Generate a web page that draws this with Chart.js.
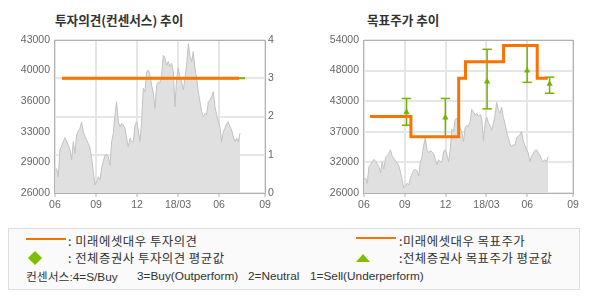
<!DOCTYPE html>
<html><head><meta charset="utf-8">
<script src="https://cdn.jsdelivr.net/npm/chart.js@4/dist/chart.umd.min.js"></script>
<style>
body{margin:0;width:590px;height:300px;background:#fff;position:relative;overflow:hidden;font-family:"Noto Sans CJK KR","Noto Sans",sans-serif;}
.title{position:absolute;font-weight:bold;font-size:12.6px;color:#333;top:11px;line-height:18px;white-space:pre;}
canvas{position:absolute;top:0;}
#c1{left:0;}
#c2{left:300px;}
.legend{position:absolute;left:8px;top:228px;width:570px;height:60px;background:#fafafa;border:1px solid #dedede;}
.lt{position:absolute;font-size:12.4px;line-height:16px;color:#333;white-space:pre;letter-spacing:0.5px;}
.ls{position:absolute;font-size:11.8px;line-height:16px;color:#333;white-space:pre;font-family:"Liberation Sans","Noto Sans CJK KR",sans-serif;}
.ls .k{font-family:"Noto Sans CJK KR",sans-serif;}
.oline{position:absolute;height:2px;width:40px;background:#f57300;}
.diamond{position:absolute;width:10px;height:10px;background:#7dbf00;transform:rotate(45deg);}
.tri{position:absolute;width:0;height:0;border-left:7px solid transparent;border-right:7px solid transparent;border-bottom:8px solid #7dbf00;}
</style>
</head><body>
<div class="title" style="left:55px;">투자의견(컨센서스) 추이</div>
<div class="title" style="left:367px;">목표주가 추이</div>
<canvas id="c1" width="295" height="220"></canvas>
<canvas id="c2" width="290" height="220"></canvas>
<div class="legend"></div>
<div class="oline" style="left:26px;top:238px;"></div>
<div class="lt" style="left:68px;top:233px;">: 미래에셋대우 투자의견</div>
<div class="diamond" style="left:30px;top:253px;"></div>
<div class="lt" style="left:68px;top:250px;">: 전체증권사 투자의견 평균값</div>
<div class="oline" style="left:356px;top:237px;"></div>
<div class="lt" style="left:399px;top:233px;">:미래에셋대우 목표주가</div>
<div class="tri" style="left:356px;top:254px;"></div>
<div class="lt" style="left:399px;top:250px;">:전체증권사 목표주가 평균값</div>
<div class="ls" style="left:26px;top:268px;"><span class="k">컨센서스</span>:4=S/Buy</div>
<div class="ls" style="left:137px;top:268px;">3=Buy(Outperform)</div>
<div class="ls" style="left:248px;top:268px;">2=Neutral</div>
<div class="ls" style="left:310px;top:268px;">1=Sell(Underperform)</div>
<script>
// ---- data (x in months since 2017-06) ----
const xTickValues = [0, 3, 6, 9, 12];
const xTickLabels = ['06', '09', '12', '18/03', '06', '09'];
const xMin = -0.07, xMax = 15.36;

const priceStartMonth = 0, priceEndMonth = 13.53;
const priceValues = [
 28500,28700,27800,30800,31200,31700,32150,31800,31300,30800,
 29700,31700,30400,32450,32900,33200,33900,32800,32300,31900,
 31500,31000,29850,28400,26900,27250,27800,27450,28750,29500,
 30200,30300,30050,29100,31700,32600,34700,36150,33900,33350,
 33750,33550,33200,32100,31150,32100,31700,31700,33550,33900,
 33000,31700,33900,37650,37250,39500,39650,39100,
 38000,37100,35400,38000,38350,38200,39100,41300,40950,40200,
 40600,40050,40400,39500,35600,38750,39850,38900,38350,37450,
 38750,40200,42600,41150,40600,41700,39850,38750,37250,36150,
 35050,34500,34850,34700,36150,36350,36700,37250,35600,34700,
 33900,33350,31700,32800,33200,33750,33900,33350,33000,32250,
 31700,32100,31700,32650
];

const opinionMonths = [0.51, 13.46];
const opinionValues = [3, 3];
const consensusOpinionMonths = [0.51, 13.9];
const consensusOpinionValues = [3, 3];

const targetMonths = [0.44, 3.45, 6.96, 7.46, 10.26, 12.73, 13.51];
const targetValues = [40000, 36300, 47000, 50000, 53000, 47000, 47000];

const consensusMonths = [3.13, 5.98, 9.05, 11.99, 13.64];
const consensusAvg  = [40800, 39800, 46400, 48400, 45950];
const consensusHigh = [43300, 43300, 52300, 53000, 47200];
const consensusLow  = [38400, 36300, 41400, 46250, 44250];

// ---- styling ----
const ORANGE = '#f87300', GREEN = '#74b300', GRID = '#e6e6e6', AXIS = '#b0b0b0', TXT = '#666';
const tickFont = {family: 'Liberation Sans, Arial, sans-serif', size: 10.5};

const pricePoints = priceValues.map((v, i) => ({
  x: priceStartMonth + i * (priceEndMonth - priceStartMonth) / (priceValues.length - 1), y: v}));
const pairs = (xs, ys) => xs.map((x, i) => ({x, y: ys[i]}));

function xScale() {
  return {
    type: 'linear', position: 'bottom', min: xMin, max: xMax,
    afterBuildTicks: s => { s.ticks = xTickValues.concat([xMax]).map(v => ({value: v})); },
    afterFit: s => { s.height = 27; },
    grid: {color: GRID, lineWidth: 2, drawTicks: true, tickLength: 4, tickColor: AXIS, tickWidth: 1},
    border: {color: AXIS, width: 1},
    ticks: {autoSkip: false, maxRotation: 0, padding: 2, color: TXT, font: tickFont,
            callback: (v, i) => xTickLabels[i]}
  };
}
function edgeScale(pos, axis) {
  return {
    type: 'linear', position: pos, display: true,
    afterFit: s => { if (axis === 'x') s.height = 0; else s.width = 0; },
    grid: {drawOnChartArea: false, drawTicks: false},
    border: {color: AXIS, width: 1},
    ticks: {display: false}
  };
}
const areaDataset = (yID) => ({
  data: pricePoints, xAxisID: 'x', yAxisID: yID, fill: 'start',
  backgroundColor: '#e0e0e0', borderColor: '#c2c2c2', borderWidth: 1,
  pointRadius: 0, tension: 0, order: 5
});

const common = {
  responsive: false, animation: false,
  plugins: {legend: {display: false}, tooltip: {enabled: false}},
  events: []
};

// ---- chart 1: opinion ----
new Chart(document.getElementById('c1'), {
  type: 'line',
  data: {datasets: [
    areaDataset('yPrice'),
    {data: pairs(consensusOpinionMonths, consensusOpinionValues), xAxisID: 'x', yAxisID: 'yOp',
     borderColor: GREEN, borderWidth: 2, pointRadius: 0, order: 2},
    {data: pairs(opinionMonths, opinionValues), xAxisID: 'x', yAxisID: 'yOp',
     borderColor: ORANGE, borderWidth: 3, pointRadius: 0, borderCapStyle: 'butt', order: 1}
  ]},
  options: Object.assign({}, common, {
    layout: {padding: {top: 40, left: 0, right: 0, bottom: 0}},
    scales: {
      x: xScale(),
      xTop: edgeScale('top', 'x'),
      yPrice: {
        type: 'linear', position: 'left', min: 26000, max: 43000,
        afterFit: s => { s.width = 54; },
        grid: {drawOnChartArea: false, drawTicks: false},
        border: {color: AXIS, width: 1},
        ticks: {stepSize: 3400, padding: 4, color: TXT, font: tickFont,
                callback: v => String(Math.round(v / 1000) * 1000)}
      },
      yOp: {
        type: 'linear', position: 'right', min: 0, max: 4,
        afterFit: s => { s.width = 30; },
        grid: {color: GRID, lineWidth: 2, drawTicks: false},
        border: {color: AXIS, width: 1},
        ticks: {stepSize: 1, padding: 3, color: TXT, font: tickFont}
      }
    }
  })
});

// ---- chart 2: target price ----
const errData = [];
consensusMonths.forEach((m, i) => {
  errData.push({x: m, y: consensusLow[i]}, {x: m, y: consensusHigh[i]}, {x: m, y: null});
});

new Chart(document.getElementById('c2'), {
  type: 'line',
  data: {datasets: [
    areaDataset('y'),
    {data: errData, xAxisID: 'x', yAxisID: 'y', spanGaps: false,
     borderColor: GREEN, borderWidth: 1.5, pointStyle: 'line',
     pointRadius: c => (c.raw && c.raw.y != null) ? 4.7 : 0,
     pointBorderColor: GREEN, pointBorderWidth: 1.5, order: 3},
    {data: pairs(consensusMonths, consensusAvg), xAxisID: 'x', yAxisID: 'y', showLine: false,
     pointStyle: 'triangle', pointRadius: 3.2, pointBackgroundColor: GREEN,
     pointBorderColor: GREEN, pointBorderWidth: 0.5, order: 2},
    {data: pairs(targetMonths, targetValues), xAxisID: 'x', yAxisID: 'y', stepped: 'before',
     borderColor: ORANGE, borderWidth: 3, pointRadius: 0, order: 1}
  ]},
  options: Object.assign({}, common, {
    layout: {padding: {top: 40, left: 0, right: 17, bottom: 0}},
    scales: {
      x: xScale(),
      xTop: edgeScale('top', 'x'),
      y: {
        type: 'linear', position: 'left', min: 26000, max: 54000,
        afterFit: s => { s.width = 63; },
        grid: {color: GRID, lineWidth: 2, drawTicks: false},
        border: {color: AXIS, width: 1},
        ticks: {stepSize: 5600, padding: 4, color: TXT, font: tickFont,
                callback: v => String(Math.round(v / 1000) * 1000)}
      },
      yRight: edgeScale('right', 'y')
    }
  })
});
</script>
</body></html>
